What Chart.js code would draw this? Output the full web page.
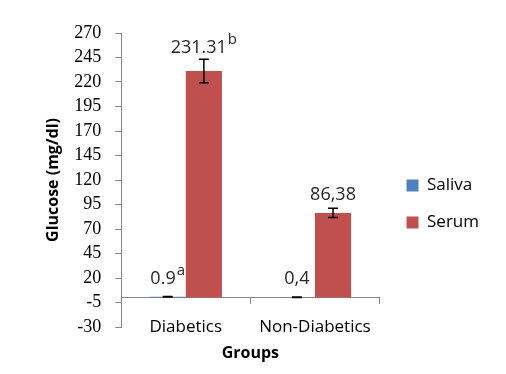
<!DOCTYPE html>
<html><head><meta charset="utf-8">
<script src="https://cdn.jsdelivr.net/npm/chart.js@4"></script>
<style>html,body{margin:0;padding:0;background:#fff}#w{width:506px;height:374px}</style>
</head><body><div id="w"><canvas id="c"></canvas></div>
<script>
const categories = ['Diabetics', 'Non-Diabetics'];
const seriesNames = ['Saliva', 'Serum'];
const salivaValues = [0.9, 0.4];
const serumValues = [231.31, 86.38];
const salivaErrors = [0.3, 0.2];
const serumErrors = [12, 4.7];
const salivaLabels = ['0.9', '0,4'];
const salivaSup = ['a', ''];
const serumLabels = ['231.31', '86,38'];
const serumSup = ['b', ''];
const yTickValues = [-30, -5, 20, 45, 70, 95, 120, 145, 170, 195, 220, 245, 270];

const series = [
  {vals: salivaValues, errs: salivaErrors, labels: salivaLabels, sup: salivaSup},
  {vals: serumValues, errs: serumErrors, labels: serumLabels, sup: serumSup}
];

const overlay = {
  id: 'overlay',
  afterLayout(chart) {
    const lg = chart.legend;
    lg.left += 7; lg.right += 7;
    lg.top += 24; lg.bottom += 24;
  },
  afterDatasetsDraw(chart) {
    const ctx = chart.ctx, y = chart.scales.y;
    series.forEach((s, di) => {
      const meta = chart.getDatasetMeta(di);
      meta.data.forEach((bar, i) => {
        const x = bar.x;
        const yHi = y.getPixelForValue(s.vals[i] + s.errs[i]);
        const yLo = y.getPixelForValue(s.vals[i] - s.errs[i]);
        ctx.save();
        ctx.strokeStyle = '#000';
        ctx.lineWidth = 1.5;
        ctx.beginPath();
        ctx.moveTo(x, yHi); ctx.lineTo(x, yLo);
        ctx.moveTo(x - 5, yHi); ctx.lineTo(x + 5, yHi);
        ctx.moveTo(x - 5, yLo); ctx.lineTo(x + 5, yLo);
        ctx.stroke();
        const main = s.labels[i], sup = s.sup[i];
        ctx.fillStyle = '#262626';
        ctx.textBaseline = 'alphabetic';
        ctx.textAlign = 'left';
        ctx.font = '18px "Open Sans"';
        const wMain = ctx.measureText(main).width;
        ctx.font = '15px "Open Sans"';
        const wSup = sup ? ctx.measureText(sup).width + 1 : 0;
        const base = Math.min(bar.y - 13, yHi - 6);
        const x0 = x - (wMain + wSup) / 2;
        ctx.font = '18px "Open Sans"';
        ctx.fillText(main, x0, base);
        if (sup) {
          ctx.font = '15px "Open Sans"';
          ctx.fillText(sup, x0 + wMain + 1, base - 9);
        }
        ctx.restore();
      });
    });
  }
};

Chart.defaults.font.family = '"Open Sans"';
Chart.defaults.color = '#000';

new Chart(document.getElementById('c'), {
  type: 'bar',
  data: {
    labels: categories,
    datasets: [
      {label: seriesNames[0], data: salivaValues, backgroundColor: '#4F81BD'},
      {label: seriesNames[1], data: serumValues, backgroundColor: '#C0504D'}
    ]
  },
  options: {
    responsive: true,
    maintainAspectRatio: false,
    animation: false,
    devicePixelRatio: 1,
    datasets: {bar: {categoryPercentage: 0.56, barPercentage: 1}},
    layout: {padding: {left: 37, top: 33, right: 24, bottom: 47}},
    plugins: {
      tooltip: {enabled: false},
      legend: {
        position: 'right',
        labels: {boxWidth: 12, boxHeight: 12, padding: 20, font: {size: 17}, color: '#000'}
      }
    },
    scales: {
      x: {
        position: {y: 0},
        offset: true,
        grid: {drawOnChartArea: false, tickLength: 6, color: '#868686', offset: true},
        border: {color: '#868686', width: 1},
        ticks: {font: {size: 17}, color: '#000', padding: 13, maxRotation: 0},
        title: {display: true, text: 'Groups', font: {size: 16, weight: 'bold'}, color: '#000', padding: {top: -6, bottom: 4}}
      },
      y: {
        min: -30, max: 270,
        afterBuildTicks(scale) { scale.ticks = yTickValues.map(v => ({value: v})); },
        ticks: {font: {family: '"Liberation Serif"', size: 18}, color: '#000', padding: 14, autoSkip: false},
        grid: {drawOnChartArea: false, drawTicks: true, tickLength: 6, color: '#868686'},
        border: {color: '#868686', width: 1},
        title: {display: true, text: 'Glucose (mg/dl)', font: {size: 16, weight: 'bold'}, color: '#000', padding: {top: 7, bottom: -3}}
      }
    }
  },
  plugins: [overlay]
});
</script>
</body></html>
